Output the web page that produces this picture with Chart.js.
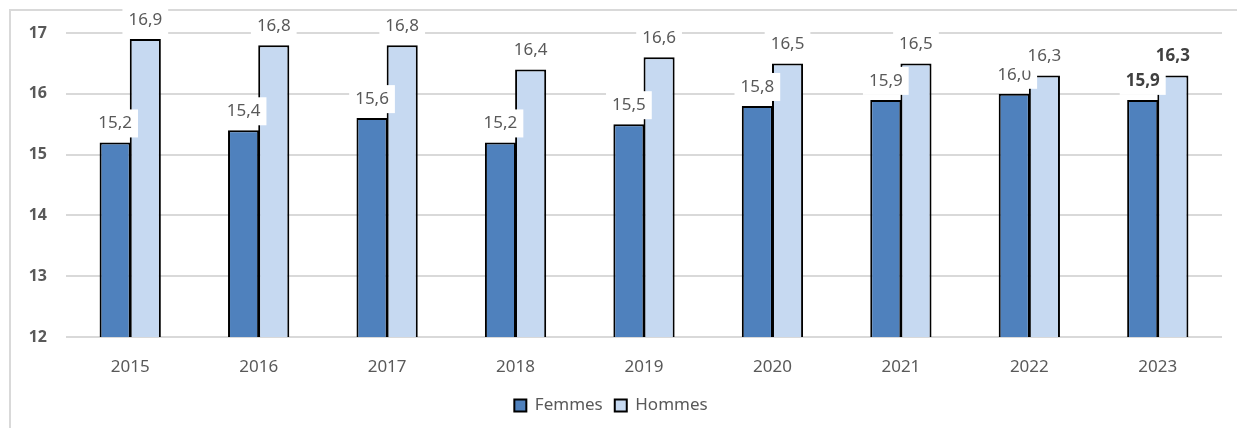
<!DOCTYPE html>
<html lang="fr">
  <head>
    <meta charset="UTF-8" />
    <title>Femmes / Hommes 2015-2023</title>
    <script src="https://cdn.jsdelivr.net/npm/chart.js"></script>
    <style>
      html, body { margin: 0; padding: 0; background: #fff; }
      .wrap { width: 1237px; height: 428px; position: relative; }
    </style>
  </head>
  <body>
    <div class="wrap">
      <canvas id="chart" width="1237" height="428"></canvas>
    </div>
    <script>
      const years = ["2015", "2016", "2017", "2018", "2019", "2020", "2021", "2022", "2023"];
      const femmes = [15.2, 15.4, 15.6, 15.2, 15.5, 15.8, 15.9, 16.0, 15.9];
      const hommes = [16.9, 16.8, 16.8, 16.4, 16.6, 16.5, 16.5, 16.3, 16.3];
      const yTicks = [12, 13, 14, 15, 16, 17];

      const textGrey = "#595959";
      const gridGrey = "#d9d9d9";

      // outer frame of the original picture (top + left edge only)
      const framePlugin = {
        id: "frame",
        beforeDraw(chart) {
          const ctx = chart.ctx;
          ctx.save();
          ctx.strokeStyle = gridGrey;
          ctx.lineWidth = 2;
          ctx.beginPath();
          ctx.moveTo(10, chart.height);
          ctx.lineTo(10, 10);
          ctx.lineTo(chart.width, 10);
          ctx.stroke();
          ctx.restore();
        },
      };

      // value labels on white boxes above each bar
      const labelPlugin = {
        id: "valueLabels",
        afterDatasetsDraw(chart) {
          const ctx = chart.ctx;
          ctx.save();
          chart.data.datasets.forEach((ds, di) => {
            const meta = chart.getDatasetMeta(di);
            meta.data.forEach((bar, i) => {
              const txt = ds.data[i].toFixed(1).replace(".", ",");
              const bold = i === years.length - 1;
              ctx.font = (bold ? "bold " : "") + "17px 'Noto Sans'";
              const w = ctx.measureText(txt).width + 12;
              const cx = bar.x;
              const cy = bar.y - 19;
              ctx.fillStyle = "#fff";
              ctx.fillRect(cx - w / 2, cy - 14, w, 28);
              ctx.fillStyle = bold ? "#404040" : textGrey;
              ctx.textAlign = "center";
              ctx.textBaseline = "middle";
              ctx.fillText(txt, cx, cy);
            });
          });
          ctx.restore();
        },
      };

      const ctx = document.getElementById("chart").getContext("2d");
      new Chart(ctx, {
        type: "bar",
        data: {
          labels: years,
          datasets: [
            {
              label: "Femmes",
              data: femmes,
              backgroundColor: "#4f81bd",
              borderColor: "#000",
              borderWidth: 2,
              borderSkipped: "bottom",
            },
            {
              label: "Hommes",
              data: hommes,
              backgroundColor: "#c6d9f1",
              borderColor: "#000",
              borderWidth: 2,
              borderSkipped: "bottom",
            },
          ],
        },
        options: {
          responsive: false,
          animation: false,
          events: [],
          layout: { padding: { top: 33, right: 15, bottom: 4, left: 0 } },
          datasets: { bar: { categoryPercentage: 0.47, barPercentage: 1.03 } },
          plugins: {
            tooltip: { enabled: false },
            legend: {
              position: "bottom",
              labels: {
                boxWidth: 12,
                boxHeight: 12,
                padding: 12,
                color: textGrey,
                font: { family: "'Noto Sans'", size: 17 },
              },
            },
          },
          scales: {
            x: {
              grid: { display: false },
              border: { display: false },
              ticks: {
                color: textGrey,
                padding: 12,
                font: { family: "'Noto Sans'", size: 17 },
              },
              afterFit(scale) { scale.height = 48; },
            },
            y: {
              min: 12,
              max: 17,
              afterBuildTicks(scale) {
                scale.ticks = yTicks.map((v) => ({ value: v }));
              },
              grid: { color: gridGrey, lineWidth: 2, drawTicks: false },
              border: { display: false },
              ticks: {
                color: textGrey,
                padding: 19,
                font: { family: "'Noto Sans'", size: 16, weight: "bold" },
              },
              afterFit(scale) { scale.width = 66; },
            },
          },
        },
        plugins: [framePlugin, labelPlugin],
      });
    </script>
  </body>
</html>
